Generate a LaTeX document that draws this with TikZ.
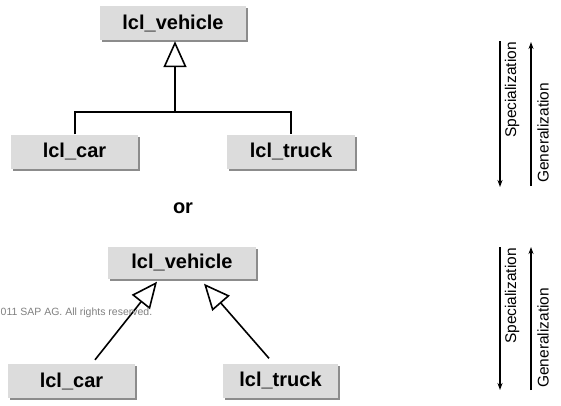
\documentclass[tikz,border=0pt]{standalone}
\usepackage{fontspec}
\setmainfont{Liberation Sans}
\usetikzlibrary{arrows.meta,shadows,calc}
\definecolor{boxfill}{HTML}{DCDCDC}
\definecolor{shadowgray}{HTML}{8C8C8C}
\tikzset{
  cls/.style={draw=none, fill=boxfill, minimum height=34pt, inner sep=0pt,
    font=\fontsize{20}{23}\selectfont\bfseries,
    drop shadow={shadow xshift=2pt, shadow yshift=-2pt, fill=shadowgray, opacity=1}},
  inherit/.style={line width=1.6pt, -{Triangle[open, length=26pt, width=23pt, line width=1.6pt]}},
  conn/.style={line width=1.6pt},
  dirarrow/.style={line width=1.4pt, -{Stealth[length=7pt, width=5pt]}},
  dirlabel/.style={rotate=90, inner sep=0pt, font=\fontsize{15.5}{18}\selectfont},
}
\begin{document}
\begin{tikzpicture}[x=1pt, y=-1pt]
\useasboundingbox (0,0) rectangle (561,405);
% top variant
\node[cls, minimum width=146pt] (v1) at (173,23) {lcl\_vehicle};
\node[cls, minimum width=127pt] (c1) at (74.5,151.5) {lcl\_car};
\node[cls, minimum width=128pt] (t1) at (291,151.5) {lcl\_truck};
\coordinate (j) at (175,112);
\draw[conn] (c1.north -| 75,0) |- (j) -| (t1.north);
\draw[inherit] (j) -- ([yshift=-1pt]j |- v1.south);
% or
\node[font=\fontsize{20}{24}\selectfont\bfseries, inner sep=0pt] (or) at (183,208) {or};
% bottom variant
\node[cls, minimum width=148pt, minimum height=32pt] (v2) at (182,262.5) {lcl\_vehicle};
\node[cls, minimum width=127pt] (c2) at (71.5,381) {lcl\_car};
\node[cls, minimum width=115pt] (t2) at (280.5,380.5) {lcl\_truck};
\draw[inherit] ([xshift=23.5pt, yshift=4pt]c2.north) -- ([xshift=-25pt, yshift=-3pt]v2.south);
\draw[inherit] ([xshift=-11.5pt, yshift=5pt]t2.north) -- ([xshift=22pt, yshift=-5pt]v2.south);
% copyright
\node[anchor=west, inner sep=0pt, text=gray, font=\fontsize{10.5}{12}\selectfont] (copy) at (0.5,313) {011 SAP AG. All rights reserved.};
% right side, top
\coordinate (s1a) at (500,41); \coordinate (s1b) at (500,187);
\coordinate (g1a) at (531,186); \coordinate (g1b) at (531,42);
\draw[dirarrow] (s1a) -- (s1b);
\draw[dirarrow] (g1a) -- (g1b);
\node[dirlabel, anchor=east] (sl1) at (512,42) {Specialization};
\node[dirlabel, anchor=west] (gl1) at (543,183) {Generalization};
% right side, bottom
\coordinate (s2a) at (500,247); \coordinate (s2b) at (500,390);
\coordinate (g2a) at (531,390); \coordinate (g2b) at (531,247);
\draw[dirarrow] (s2a) -- (s2b);
\draw[dirarrow] (g2a) -- (g2b);
\node[dirlabel, anchor=east] (sl2) at (512,248) {Specialization};
\node[dirlabel, anchor=west] (gl2) at (543,388) {Generalization};
\end{tikzpicture}
\end{document}
